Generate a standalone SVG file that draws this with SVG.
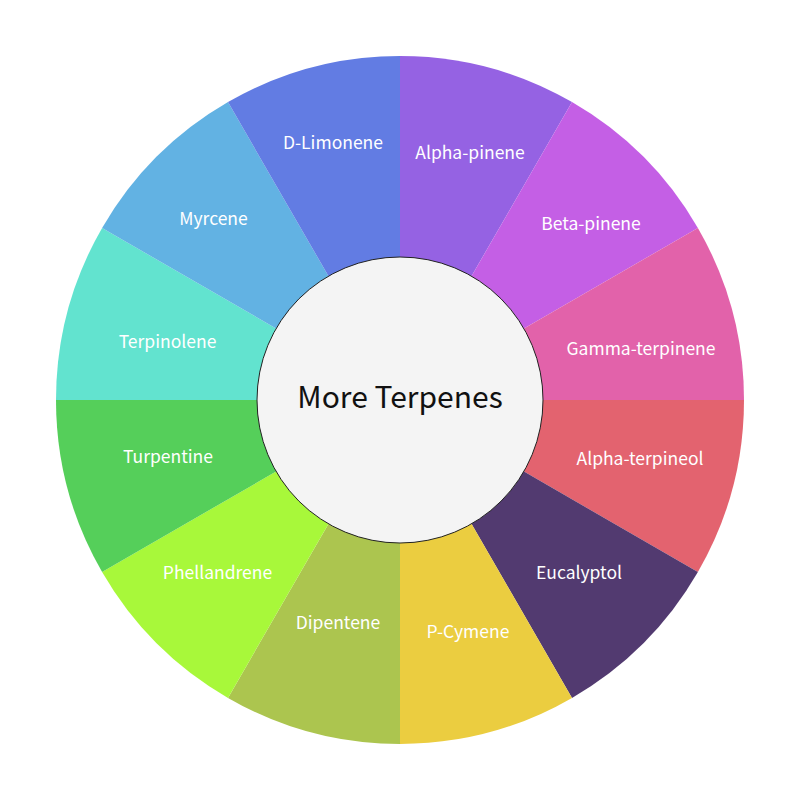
<svg xmlns="http://www.w3.org/2000/svg" width="800" height="800" viewBox="0 0 800 800">
<style>
.lbl{font-family:"Noto Sans CJK SC","Noto Sans",sans-serif;font-size:17.5px;fill:#ffffff;text-anchor:middle}
.ctr{font-family:"Noto Sans CJK SC","Noto Sans",sans-serif;font-size:30px;fill:#111111;text-anchor:middle}
</style>
<rect width="800" height="800" fill="#ffffff"/>
<g id="alpha-pinene"><path d="M400 400 L400 56 A344 344 0 0 1 572 102.1 Z" fill="#9562E3"/><text class="lbl" x="470" y="159">Alpha-pinene</text></g>
<g id="beta-pinene"><path d="M400 400 L572 102.1 A344 344 0 0 1 697.9 228 Z" fill="#C45FE5"/><text class="lbl" x="591" y="230">Beta-pinene</text></g>
<g id="gamma-terpinene"><path d="M400 400 L697.9 228 A344 344 0 0 1 744 400 Z" fill="#E262AA"/><text class="lbl" x="641" y="355">Gamma-terpinene</text></g>
<g id="alpha-terpineol"><path d="M400 400 L744 400 A344 344 0 0 1 697.9 572 Z" fill="#E3636F"/><text class="lbl" x="640" y="465">Alpha-terpineol</text></g>
<g id="eucalyptol"><path d="M400 400 L697.9 572 A344 344 0 0 1 572 697.9 Z" fill="#523A70"/><text class="lbl" x="579" y="579">Eucalyptol</text></g>
<g id="p-cymene"><path d="M400 400 L572 697.9 A344 344 0 0 1 400 744 Z" fill="#EBCD40"/><text class="lbl" x="468" y="638">P-Cymene</text></g>
<g id="dipentene"><path d="M400 400 L400 744 A344 344 0 0 1 228 697.9 Z" fill="#ACC54F"/><text class="lbl" x="338" y="629">Dipentene</text></g>
<g id="phellandrene"><path d="M400 400 L228 697.9 A344 344 0 0 1 102.1 572 Z" fill="#A8F83A"/><text class="lbl" x="217.5" y="579">Phellandrene</text></g>
<g id="turpentine"><path d="M400 400 L102.1 572 A344 344 0 0 1 56 400 Z" fill="#55CF5A"/><text class="lbl" x="168" y="463">Turpentine</text></g>
<g id="terpinolene"><path d="M400 400 L56 400 A344 344 0 0 1 102.1 228 Z" fill="#62E3CF"/><text class="lbl" x="167.5" y="348">Terpinolene</text></g>
<g id="myrcene"><path d="M400 400 L102.1 228 A344 344 0 0 1 228 102.1 Z" fill="#62B2E3"/><text class="lbl" x="213.5" y="225">Myrcene</text></g>
<g id="d-limonene"><path d="M400 400 L228 102.1 A344 344 0 0 1 400 56 Z" fill="#627CE3"/><text class="lbl" x="333" y="149">D-Limonene</text></g>
<g id="center"><circle cx="400" cy="400" r="143" fill="#F4F4F4" stroke="#222222" stroke-width="1"/><text class="ctr" x="400" y="408">More Terpenes</text></g>
<g id="connectors"/>
</svg>
